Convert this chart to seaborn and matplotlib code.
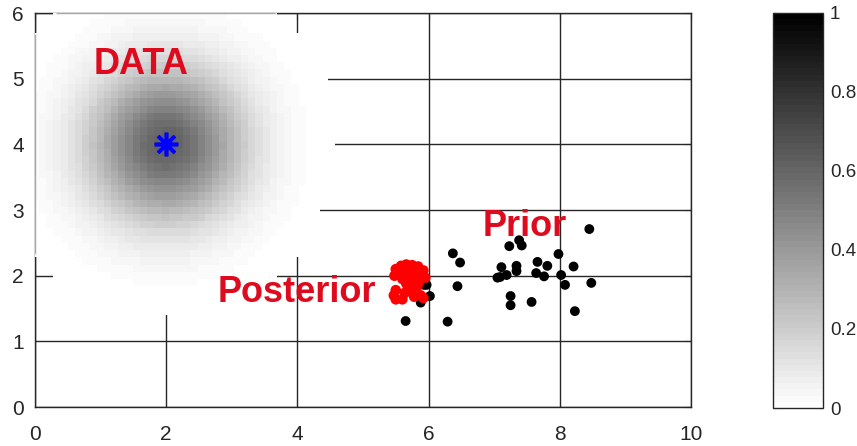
import numpy as np
import pandas as pd
import matplotlib
matplotlib.use("Agg")
import matplotlib.pyplot as plt
from matplotlib.patches import Circle
import seaborn as sns

# ---- data -------------------------------------------------------------
# observed data point and the spread of its likelihood field
data_x = [2.0]
data_y = [4.0]
data_peak = 0.62          # field value at the data point
data_sigma = 0.8          # spread of the field
data_radius = 2.6         # field is only evaluated inside this radius
cell = 0.11               # grid cell size of the field

prior_x = [8.45, 7.23, 7.38, 7.42, 6.37, 6.48, 7.98, 7.11, 7.34, 7.34,
           7.66, 7.81, 8.21, 7.09, 7.19, 7.05, 7.64, 7.76, 8.02, 8.08,
           8.48, 6.44, 7.25, 7.25, 7.57, 8.23, 6.29, 5.65, 5.97, 6.02,
           5.88, 5.93]
prior_y = [2.71, 2.45, 2.54, 2.46, 2.34, 2.20, 2.33, 2.13, 2.15, 2.07,
           2.21, 2.15, 2.14, 1.98, 2.01, 1.97, 2.04, 1.99, 2.01, 1.86,
           1.89, 1.84, 1.69, 1.55, 1.60, 1.46, 1.30, 1.31, 1.86, 1.69,
           1.59, 1.86]

post_x = [5.50, 5.58, 5.66, 5.75, 5.84, 5.92, 5.48, 5.56, 5.64, 5.72,
          5.80, 5.88, 5.95, 5.60, 5.70, 5.78, 5.86, 5.66, 5.75, 5.83,
          5.50, 5.47, 5.50, 5.60, 5.64, 5.74, 5.78, 5.88, 5.92, 5.70]
post_y = [2.10, 2.15, 2.17, 2.16, 2.14, 2.08, 2.00, 2.04, 2.07, 2.05,
          2.06, 2.00, 1.97, 1.95, 1.96, 1.94, 1.92, 1.88, 1.86, 1.84,
          1.78, 1.70, 1.64, 1.64, 1.74, 1.76, 1.68, 1.70, 1.66, 1.80]

x_ticks = [0, 2, 4, 6, 8, 10]
y_ticks = [0, 1, 2, 3, 4, 5, 6]
cbar_ticks = [0, 0.2, 0.4, 0.6, 0.8, 1]
cbar_labels = ["0", "0.2", "0.4", "0.6", "0.8", "1"]

# ---- style ------------------------------------------------------------
sns.set_style("white")
plt.rcParams["font.family"] = ["Liberation Sans", "DejaVu Sans"]
ink = "#262626"
label_red = "#DE0A1E"
cmap = plt.get_cmap("gray_r", 64)

fig = plt.figure(figsize=(8.57, 4.46), dpi=100)
ax = fig.add_axes([0.0408, 0.0874, 0.7655, 0.8834])
cax = fig.add_axes([0.902, 0.0852, 0.0583, 0.886])

# ---- likelihood field around the data point --------------------------
cx, cy = data_x[0], data_y[0]
ex = np.arange(cx - data_radius - cell, cx + data_radius + 2 * cell, cell)
ey = np.arange(cy - data_radius - cell, cy + data_radius + 2 * cell, cell)
mx = 0.5 * (ex[:-1] + ex[1:])
my = 0.5 * (ey[:-1] + ey[1:])
MX, MY = np.meshgrid(mx, my)
R2 = (MX - cx) ** 2 + (MY - cy) ** 2
field = data_peak * np.exp(-R2 / (2 * data_sigma ** 2))
field = np.ma.masked_where(np.sqrt(R2) > data_radius, field)
mesh = ax.pcolormesh(ex, ey, field, cmap=cmap, vmin=0, vmax=1,
                     shading="flat", zorder=3)

# axis frame shows faintly through the field
clip = Circle((cx, cy), data_radius, transform=ax.transData)
for xs, ys in [([0, 0], [0, 6]), ([0, 10], [6, 6])]:
    ln, = ax.plot(xs, ys, color="#a8a8a8", lw=1.0, zorder=3.5,
                  solid_capstyle="butt")
    ln.set_clip_path(clip)

# ---- samples ------------------------------------------------------------
prior_df = pd.DataFrame({"x": prior_x, "y": prior_y})
post_df = pd.DataFrame({"x": post_x, "y": post_y})
sns.scatterplot(data=prior_df, x="x", y="y", ax=ax, color="black",
                s=50, edgecolor="none", zorder=4)
sns.scatterplot(data=post_df, x="x", y="y", ax=ax, color="#FF0000",
                s=58, edgecolor="none", zorder=5)
ax.plot(data_x, data_y, linestyle="none", marker=(8, 2, 0),
        markersize=17, markeredgewidth=2.6, color="#0000FF", zorder=6)

# ---- labels -------------------------------------------------------------
txt = dict(color=label_red, fontsize=26, fontweight="bold", zorder=7)
ax.text(0.9, 5.07, "DATA", **txt)
ax.text(6.82, 2.60, "Prior", **txt)
ax.text(2.79, 1.60, "Posterior", **txt)

# ---- axes -------------------------------------------------------------
ax.set_xlim(0, 10)
ax.set_ylim(0, 6)
ax.set_xticks(x_ticks)
ax.set_yticks(y_ticks)
ax.set_xticklabels([str(t) for t in x_ticks])
ax.set_yticklabels([str(t) for t in y_ticks])
ax.set_xlabel("")
ax.set_ylabel("")
ax.set_axisbelow(True)
ax.grid(True, color=ink, lw=1.0, alpha=1)
ax.tick_params(axis="both", direction="in", length=5, width=0.8,
               color=ink, labelcolor=ink, labelsize=15,
               top=True, right=True)
ax.tick_params(axis="x", pad=13)
ax.tick_params(axis="y", pad=8)
for sp in ax.spines.values():
    sp.set_visible(True)
    sp.set_color(ink)
    sp.set_linewidth(1.0)

# ---- colorbar ---------------------------------------------------------
cb = fig.colorbar(mesh, cax=cax, ticks=cbar_ticks)
cb.set_ticklabels(cbar_labels)
cb.outline.set_edgecolor(ink)
cb.outline.set_linewidth(1.0)
cax.yaxis.set_ticks_position("both")
cax.tick_params(direction="in", length=3, width=0.8, color=ink,
                labelcolor=ink, labelsize=13.5, labelleft=False,
                labelright=True, pad=5)

fig.savefig("out.png", dpi=100)
